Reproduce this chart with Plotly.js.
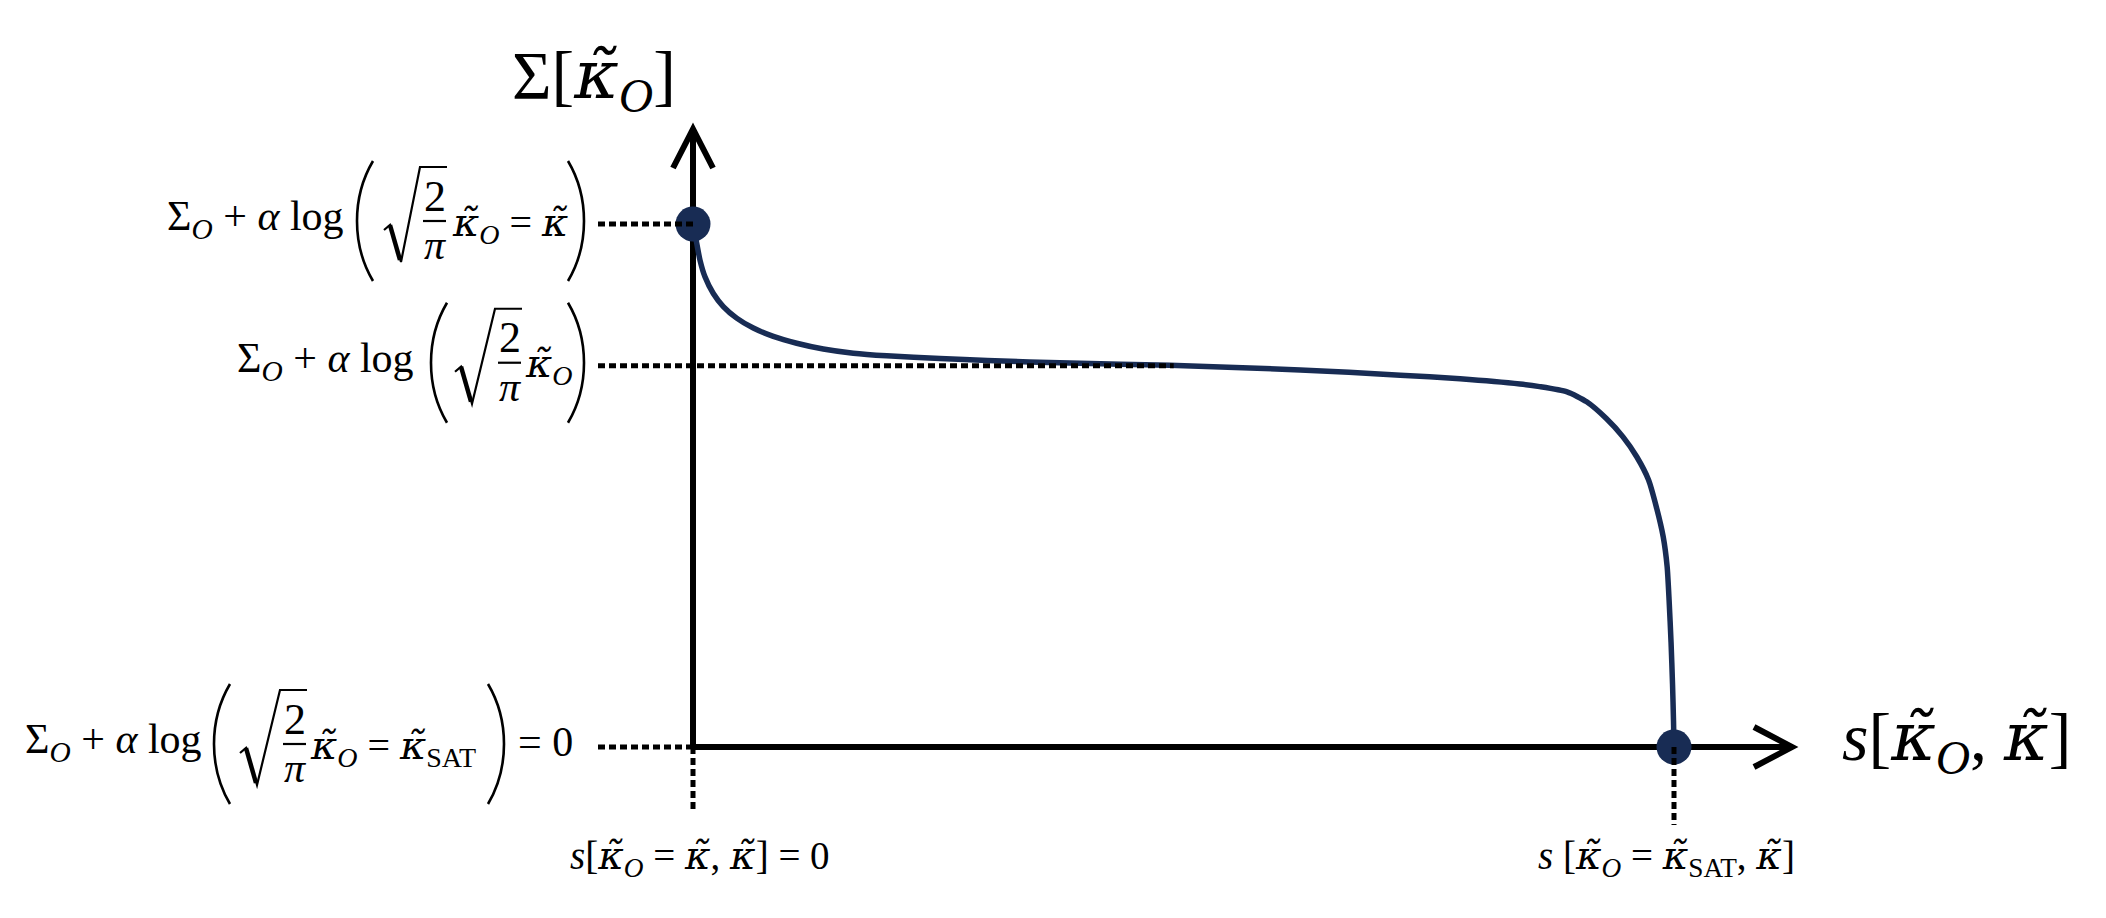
<!DOCTYPE html>
<html>
<head>
<meta charset="utf-8">
<script src="https://cdn.plot.ly/plotly-3.0.1.min.js"></script>
<style>
  html, body { margin: 0; padding: 0; background: #fff; }
  #graph { width: 2106px; height: 918px; }
</style>
</head>
<body>
<div id="graph"></div>
<script>
// Curve: s normalised so that s[k_SAT] = 1,
// Sigma normalised so that Sigma[k_o = k] = 1
const sValues = [0, 0.0038, 0.0071, 0.0122, 0.0207, 0.0309, 0.0445, 0.0615, 0.0819, 0.1057,
  0.1328, 0.1634, 0.1975, 0.2518, 0.300, 0.384, 0.486, 0.619, 0.721, 0.782,
  0.843, 0.863, 0.891, 0.911, 0.931, 0.948, 0.962, 0.974, 0.982, 0.989,
  0.993, 0.995, 0.997, 0.9985, 0.9995, 1.000];
const sigmaValues = [1.000, 0.963, 0.931, 0.899, 0.867, 0.842, 0.820, 0.801, 0.785, 0.772,
  0.761, 0.753, 0.748, 0.743, 0.739, 0.734, 0.730, 0.721, 0.711, 0.704,
  0.694, 0.689, 0.679, 0.660, 0.628, 0.593, 0.555, 0.511, 0.459, 0.402,
  0.345, 0.281, 0.200, 0.120, 0.050, 0.000];

// end points (k_o = k  and  k_o = k_SAT)
const endS = [0, 1];
const endSigma = [1, 0];

// levels marked on the vertical axis, and where each guide line stops
const levelSigma = [1, 0.729, 0];
const levelGuideEnd = [0, 0.49, 0];

// tick-like labels
const T = '<span style="font-family:DejaVu Serif">κ\u0303</span>';
const KO = '<i>' + T + '</i><sub><i>O</i></sub>';
const KT = '<i>' + T + '</i>';
const headText = 'Σ<sub><i>O</i></sub> + <i>α</i> log';
const levelInner = [KO + ' = ' + KT, KO, KO + ' = ' + KT + '<sub>SAT</sub>'];
const levelTail = ['', '', '= 0'];
const sLabels = ['<i>s</i>[' + KO + ' = ' + KT + ', ' + KT + '] = 0',
                 '<i>s</i> [' + KO + ' = ' + KT + '<sub>SAT</sub>, ' + KT + ']'];
const yTitle = 'Σ[' + KO + ']';
const xTitle = '<i>s</i>[' + KO + ', ' + KT + ']';

// pixel frame: where the origin sits and how many pixels per unit
const W = 2106, H = 918;
const X0PX = 693, Y0PX = 747, PXX = 981, PXY = 523;
const xOf = px => (px - X0PX) / PXX;
const yOf = py => (Y0PX - py) / PXY;
const pyOf = y => Y0PX - y * PXY;

const FONT = 'Liberation Serif, DejaVu Serif, serif';
const NAVY = '#182c54';
const DOT = { color: 'black', width: 5, dash: '7px,4px' };

// horizontal layout of the three formula labels (pixels)
const formulaPos = [
  { headR: 346, pl: 357, r0: 384, f0: 422, f1: 447, innerL: 450, pr: 568, tailL: 0 },
  { headR: 416, pl: 431, r0: 455, f0: 497, f1: 522, innerL: 523, pr: 568, tailL: 0 },
  { headR: 204, pl: 214, r0: 240, f0: 282, f1: 307, innerL: 308, pr: 488, tailL: 516 }
];

const shapes = [];
const annotations = [];

function pathOf(pts) {
  return pts.map((p, i) => (i === 0 ? 'M' : 'L') + xOf(p[0]) + ',' + yOf(p[1])).join(' ');
}

function paren(xl, yc, open) {
  const w = 16, h = 60;
  const xe = open ? xl + w : xl;
  const xc = open ? xl - w / 3 : xl + w + w / 3;
  const d = 'M' + xOf(xe) + ',' + yOf(yc - h) + ' C' + xOf(xc) + ',' + yOf(yc - h * 0.4) + ' ' +
            xOf(xc) + ',' + yOf(yc + h * 0.4) + ' ' + xOf(xe) + ',' + yOf(yc + h);
  shapes.push({ type: 'path', xref: 'x', yref: 'y', path: d, line: { color: 'black', width: 2.6 } });
}

function text(px, py, str, size, xanchor) {
  annotations.push({
    x: xOf(px), y: yOf(py), xref: 'x', yref: 'y', text: str, showarrow: false,
    xanchor: xanchor || 'center', yanchor: 'middle',
    font: { family: FONT, size: size, color: 'black' }
  });
}

levelSigma.forEach((lv, i) => {
  const p = formulaPos[i];
  const yc = pyOf(lv) - 3;
  text(p.headR, yc - 2, headText, 42, 'right');
  paren(p.pl, yc, true);
  // radical sign
  shapes.push({ type: 'path', xref: 'x', yref: 'y', line: { color: 'black', width: 2.2 },
    path: pathOf([[p.r0, yc + 9], [p.r0 + 6, yc + 4], [p.r0 + 17, yc + 41], [p.f0 - 2, yc - 54], [p.f1, yc - 54]]) });
  shapes.push({ type: 'path', xref: 'x', yref: 'y', line: { color: 'black', width: 4.5 },
    path: pathOf([[p.r0 + 6, yc + 4], [p.r0 + 16, yc + 39]]) });
  // fraction 2 / pi
  shapes.push({ type: 'line', xref: 'x', yref: 'y', x0: xOf(p.f0 + 1), x1: xOf(p.f1 - 1),
    y0: yOf(yc), y1: yOf(yc), line: { color: 'black', width: 2.2 } });
  text((p.f0 + p.f1) / 2, yc - 25, '2', 44);
  text((p.f0 + p.f1) / 2, yc + 24, '<i>π</i>', 42);
  text(p.innerL, yc + 3, levelInner[i], 40, 'left');
  paren(p.pr, yc, false);
  if (levelTail[i]) text(p.tailL, yc - 2, levelTail[i], 42, 'left');

  // dotted guide from the label to the curve
  shapes.push({ type: 'line', xref: 'x', yref: 'y', layer: 'above',
    x0: xOf(598), x1: levelGuideEnd[i], y0: lv, y1: lv, line: DOT });
});

// dotted guides below the horizontal axis
const guideBottom = [813, 825];
endS.forEach((s, i) => {
  shapes.push({ type: 'line', xref: 'x', yref: 'y', layer: 'above',
    x0: s, x1: s, y0: 0, y1: yOf(guideBottom[i]), line: DOT });
});
text(700, 858, sLabels[0], 39);
text(1666, 858, sLabels[1], 39);

// axes with open arrow heads
shapes.push({ type: 'line', xref: 'x', yref: 'y', layer: 'below', x0: 0, x1: xOf(1791), y0: 0, y1: 0,
  line: { color: 'black', width: 6 } });
shapes.push({ type: 'line', xref: 'x', yref: 'y', layer: 'below', x0: 0, x1: 0, y0: 0, y1: yOf(130),
  line: { color: 'black', width: 6 } });
shapes.push({ type: 'path', xref: 'x', yref: 'y', layer: 'below',
  path: pathOf([[1754, 727], [1792, 747], [1754, 767]]), line: { color: 'black', width: 6 } });
shapes.push({ type: 'path', xref: 'x', yref: 'y', layer: 'below',
  path: pathOf([[673, 168], [693, 129], [713, 168]]), line: { color: 'black', width: 6 } });

text(594, 78, yTitle, 68);
text(1840, 740, xTitle, 68, 'left');

const curveTrace = {
  x: sValues, y: sigmaValues, mode: 'lines', type: 'scatter',
  line: { color: NAVY, width: 5.5, shape: 'spline', smoothing: 0.6 },
  hoverinfo: 'skip'
};
const endTrace = {
  x: endS, y: endSigma, mode: 'markers', type: 'scatter',
  marker: { color: NAVY, size: 35 },
  hoverinfo: 'skip'
};

const layout = {
  width: W, height: H,
  margin: { l: 0, r: 0, t: 0, b: 0, autoexpand: false },
  paper_bgcolor: 'white', plot_bgcolor: 'white',
  showlegend: false,
  xaxis: { range: [xOf(0), xOf(W)], visible: false, fixedrange: true },
  yaxis: { range: [yOf(H), yOf(0)], visible: false, fixedrange: true },
  shapes: shapes,
  annotations: annotations
};

Plotly.newPlot('graph', [curveTrace, endTrace], layout, { displayModeBar: false, staticPlot: true });
</script>
</body>
</html>
